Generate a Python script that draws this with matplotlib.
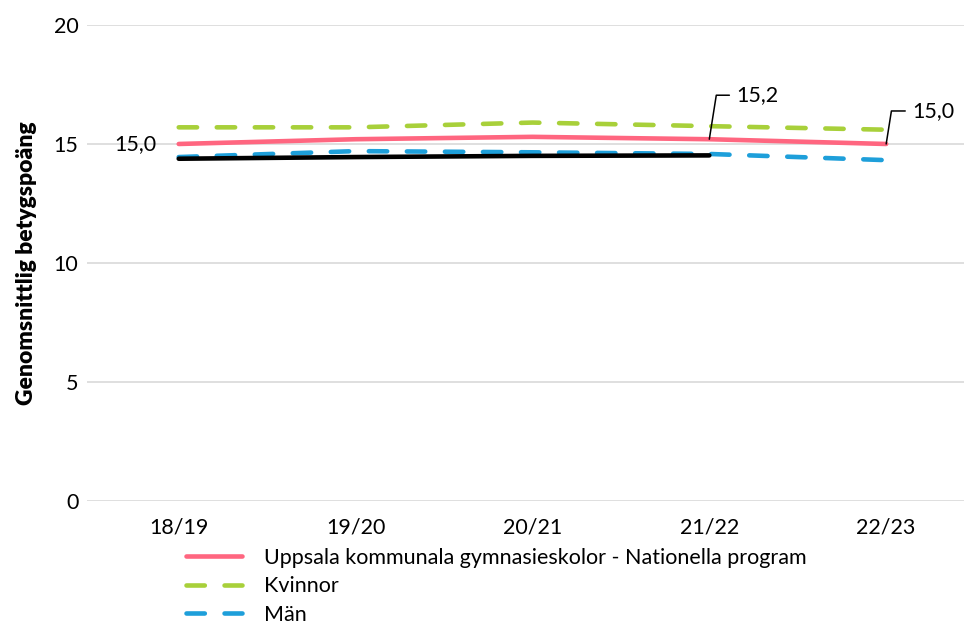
import matplotlib.pyplot as plt

plt.rcParams['font.family'] = ['Lato', 'DejaVu Sans']

# Data
years = ['18/19', '19/20', '20/21', '21/22', '22/23']
uppsala = [15.0, 15.2, 15.3, 15.2, 15.0]
kvinnor = [15.7, 15.7, 15.9, 15.75, 15.6]
man = [14.45, 14.7, 14.65, 14.58, 14.32]
riket = [14.38, 14.45, 14.5, 14.52]

x = list(range(len(years)))
fs = 15.5

fig = plt.figure(figsize=(9.64, 6.26), dpi=100)
ax = fig.add_axes([0.09, 0.2, 0.91, 0.76])

ax.plot(x, uppsala, color='#FF6680', lw=3.3, solid_capstyle='round',
        label='Uppsala kommunala gymnasieskolor - Nationella program', zorder=3)
ax.plot(x, kvinnor, color='#A8D03A', lw=3.3, dashes=(4.0, 4.3), dash_capstyle='round',
        label='Kvinnor', zorder=2)
ax.plot(x, man, color='#1E9FDA', lw=3.3, dashes=(4.0, 4.3), dash_capstyle='round',
        label='Män', zorder=2)
ax.plot(x[:len(riket)], riket, color='black', lw=3.3, solid_capstyle='round', zorder=4)

# value labels
ax.annotate('15,0', (x[0], uppsala[0]), xytext=(-22, 0), textcoords='offset pixels',
            ha='right', va='center', fontsize=fs)
for i, off in [(3, (27, 44)), (4, (26, 33))]:
    ax.annotate(f'{uppsala[i]:.1f}'.replace('.', ','), (x[i], uppsala[i]), xytext=off,
                textcoords='offset pixels', ha='left', va='center', fontsize=fs,
                arrowprops=dict(arrowstyle='-', color='black', lw=1.1,
                                connectionstyle='angle,angleA=0,angleB=81,rad=0',
                                relpos=(0, 0.5), shrinkA=3, shrinkB=0))

ax.set_ylim(0, 20)
ax.set_yticks([0, 5, 10, 15, 20])
ax.set_xlim(-0.52, 4.44)
ax.set_xticks(x)
ax.set_xticklabels(years)
ax.tick_params(axis='both', length=0, labelsize=fs)
ax.tick_params(axis='y', pad=6)
ax.tick_params(axis='x', pad=12)
ax.grid(axis='y', color='#D9D9D9', lw=1.2)
ax.set_axisbelow(True)
for s in ax.spines.values():
    s.set_visible(False)
ax.set_ylabel('Genomsnittlig betygspoäng', fontsize=16.5, fontweight='heavy', labelpad=12)

fig.legend(loc='upper left', bbox_to_anchor=(0.193, 0.125), frameon=False,
           fontsize=fs, handlelength=2.6, handletextpad=1.0, labelspacing=0.4,
           borderaxespad=0, borderpad=0)

fig.savefig('out.png', dpi=100)
